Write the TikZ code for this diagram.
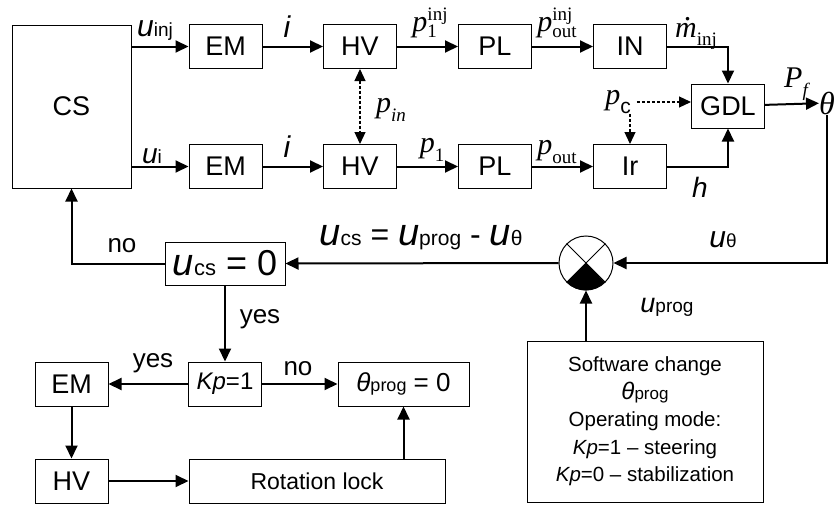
\documentclass[tikz,border=0pt]{standalone}
\usepackage{amsmath,amssymb}
\usepackage{fontspec}
\setmainfont{Liberation Sans}
\newfontfamily\tms{Liberation Serif}
\usetikzlibrary{arrows.meta}
\newcommand{\fs}[1]{\fontsize{#1}{#1}\selectfont}
\newcommand{\uvar}[4]{{\fs{#1}\itshape #3}{\fs{#2}#4}}
\newcommand{\lsub}[1]{\raisebox{-.3em}{\fs{19}#1}}
\newcommand{\ssub}[2]{{\fs{19}\ooalign{\raisebox{-.3em}{#1}\cr\raisebox{.62em}{#2}}}}
\tikzset{
  blk/.style={draw, line width=1pt, minimum width=73pt, minimum height=44pt, inner sep=0pt, font=\fs{27}},
  ar/.style={-{Triangle[length=13pt,width=12pt]}, line width=2pt},
  dsh/.style={line width=1.2pt, dash pattern=on 3pt off 2pt},
  lbl/.style={inner sep=0pt, font=\fs{26}},
  mlab/.style={inner sep=0pt, font=\tms\fs{30}}
}
\begin{document}
\begin{tikzpicture}[x=1pt, y=-1pt]
\useasboundingbox (0,0) rectangle (839,506);
% channels
\node[blk, minimum width=119pt, minimum height=163pt] (cs) at (71.5,106.5) {CS};
\node[blk] (ema) at (225.5,46.5) {EM};
\node[blk] (hva) at (360,46.5) {HV};
\node[blk] (pla) at (495,46.5) {PL};
\node[blk] (inj) at (630,46.5) {IN};
\node[blk] (gdl) at (728,106) {GDL};
\node[blk] (emb) at (225.5,166.5) {EM};
\node[blk] (hvb) at (360,166.5) {HV};
\node[blk] (plb) at (495,166.5) {PL};
\node[blk] (ir) at (630,166.5) {Ir};
\node[mlab] (th) at (827,103) {\fs{32}\itshape θ};
% feedback
\node[circle, draw, line width=1pt, minimum size=54pt, inner sep=0pt] (sum) at (586,263) {};
\fill (sum.center) -- (sum.225) arc[start angle=225, end angle=315, radius=27pt] -- cycle;
\draw[line width=0.8pt] (sum.45) -- (sum.225) (sum.135) -- (sum.315);
\node[blk, minimum width=120pt, minimum height=43pt] (ucs) at (225,263.5)
  {\uvar{38}{22}{u}{cs}{\fs{36} = 0}};
\node[blk, font=\fs{24}] (kp) at (225,384) {{\itshape Kp}=1};
\node[blk] (emc) at (71.5,384) {EM};
\node[blk, minimum width=131pt] (thp) at (403.5,384) {\uvar{26}{18}{θ}{prog}{\fs{26} = 0}};
\node[blk] (hvc) at (71.5,481) {HV};
\node[blk, minimum width=256pt, font=\fs{23}] (rot) at (317,481) {Rotation lock};
\node[blk, minimum width=236pt, minimum height=161pt, align=center,
  font={\fontsize{20.5}{27.5}\selectfont}] (sw) at (645,421.5)
  {Software change\\ \uvar{24}{17}{θ}{prog}\\ Operating mode:\\
   {\itshape Kp}=1 – steering\\ {\itshape Kp}=0 – stabilization};
% signal labels
\node[lbl] (luinj) at (155,31) {\uvar{30}{19}{u}{inj}};
\node[lbl] (lia) at (287,27) {\fs{30}\itshape i};
\node[mlab] (lp1a) at (430,28) {{\itshape p}\ssub{1}{inj}};
\node[mlab] (lpoa) at (557,28) {{\itshape p}\ssub{out}{inj}};
\node[mlab, anchor=base] (lmdot) at (696,37)
  {\ooalign{\itshape m\cr\hidewidth\hspace{5pt}\raisebox{.56em}{\itshape .}\hidewidth}\lsub{inj}};
\node[lbl] (lui) at (152,156) {\uvar{28}{19}{u}{i}};
\node[lbl] (lib) at (287,147) {\fs{30}\itshape i};
\node[mlab] (lp1b) at (432,150) {{\itshape p}\lsub{1}};
\node[mlab] (lpob) at (557,152) {{\itshape p}\lsub{out}};
\node[lbl] (lh) at (700,187) {\fs{28}\itshape h};
\node[mlab] (pc) at (618,102) {{\itshape p}\lsub{\sffamily\rmfamily\normalfont\fs{21}c}};
\node[mlab] (lpin) at (391,110) {{\itshape p}\lsub{\itshape in}};
\node[mlab] (lpf) at (796,84) {{\itshape P}\lsub{\itshape f}};
\node[lbl] (luth) at (723,240) {\uvar{30}{19}{u}{θ}};
\node[lbl] (luprog) at (667,307) {\uvar{27}{19}{u}{prog}};
\node[lbl] (leq) at (421,238)
  {\uvar{38}{21}{u}{cs}{\fs{32} = }\uvar{38}{21}{u}{prog}{\fs{32} - }\uvar{38}{21}{u}{θ}};
\node[lbl] (lno) at (122,246) {no};
\node[lbl] (lyes) at (260,319) {yes};
\node[lbl] (lyes2) at (153,363) {yes};
\node[lbl] (lno2) at (298,369) {no};
% connectors
\draw[ar] (ema.west -| cs.east) -- (ema);
\draw[ar] (ema) -- (hva);
\draw[ar] (hva) -- (pla);
\draw[ar] (pla) -- (inj);
\draw[ar] (inj) -| (gdl);
\draw[ar] (emb.west -| cs.east) -- (emb);
\draw[ar] (emb) -- (hvb);
\draw[ar] (hvb) -- (plb);
\draw[ar] (plb) -- (ir);
\draw[ar] (ir) -| (gdl);
\draw[ar] (gdl) -- (th);
\draw[dsh, {Triangle[length=12pt,width=11pt]}-{Triangle[length=12pt,width=11pt]}] (hva) -- (hvb);
\draw[dsh, -{Triangle[length=12pt,width=11pt]}] (pc.east) ++(6pt,0) -- (pc.east -| gdl.west);
\draw[dsh, -{Triangle[length=12pt,width=11pt]}] (pc.south -| ir) -- (ir);
\draw[ar] (th.south) |- (sum.east);
\draw[ar] (sum.west) -- (ucs.east);
\draw[ar] (ucs.west) -| (cs.south);
\draw[ar] (ucs) -- (kp);
\draw[ar] (kp) -- (emc);
\draw[ar] (kp) -- (thp);
\draw[ar] (emc) -- (hvc);
\draw[ar] (hvc) -- (rot);
\draw[ar] (rot.north -| thp) -- (thp);
\draw[ar] (sw.north -| sum) -- (sum.south);
\end{tikzpicture}
\end{document}
